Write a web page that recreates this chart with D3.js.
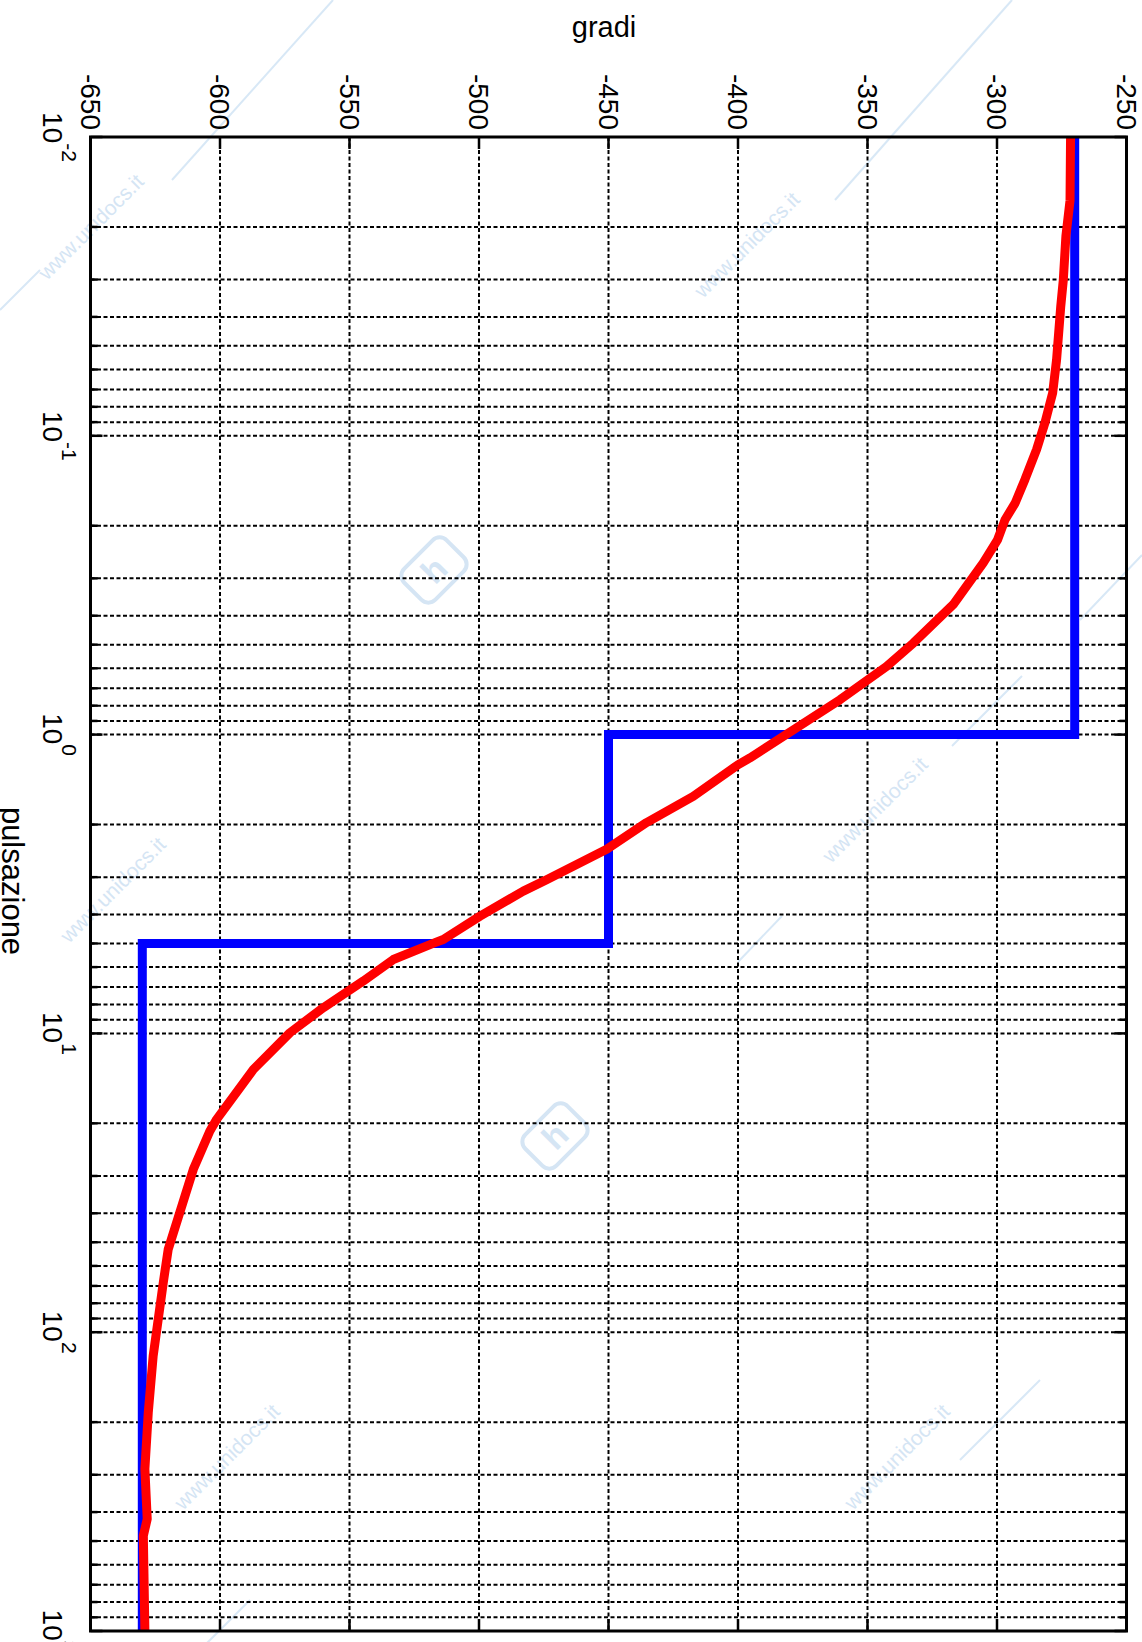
<!DOCTYPE html>
<html>
<head>
<meta charset="utf-8">
<script src="https://cdn.jsdelivr.net/npm/d3@7"></script>
<style>
  body { margin: 0; background: #fff; }
  svg { display: block; }
  text { font-family: "Liberation Sans", Arial, Helvetica, sans-serif; }
</style>
</head>
<body>
<svg id="chart" width="1142" height="1642"></svg>
<script>
// Phase axis (degrees) and frequency decades
const degreeTicks = [-650, -600, -550, -500, -450, -400, -350, -300, -250];
const decadeExponents = [-2, -1, 0, 1, 2, 3];

// Asymptotic (straight-line) phase
const asymptoteFreq = [0.01, 1, 1, 5, 5, 1000];
const asymptotePhase = [-270, -270, -450, -450, -630, -630];

// Actual phase curve
const phaseFreq = [0.01, 0.0163, 0.0215, 0.0301, 0.037, 0.0557, 0.0718, 0.0905, 0.111, 0.140,
  0.168, 0.191, 0.223, 0.266, 0.367, 0.494, 0.591, 0.764, 0.950, 1.197,
  1.26, 1.61, 1.97, 2.42, 3.06, 3.34, 4.05, 4.85, 4.97, 5.66,
  6.68, 8.2, 9.95, 13.2, 19.4, 21.2, 28.5, 52.8, 68.2, 120,
  186, 287, 422, 480, 1000];
const phaseDeg = [-271.6, -271.8, -273.4, -274.4, -275.4, -277.0, -278.5, -281.5, -284.7, -289.2,
  -293.0, -296.9, -299.8, -305.3, -316.9, -332.3, -342.6, -360.6, -377.5, -395.4,
  -399.9, -417.3, -435.3, -450.7, -473.9, -482.9, -499.6, -513.8, -517.0, -533.1,
  -544.7, -560.1, -573.0, -587.1, -601.3, -603.9, -610.3, -620.0, -621.9, -625.8,
  -627.7, -629.0, -628.1, -629.6, -629.0];

const xLabel = "pulsazione";
const yLabel = "gradi";
const watermark = "www.unidocs.it";

const svg = d3.select("#chart");
const W = 1142, H = 1642;
const box = { left: 90.5, right: 1126.5, top: 137, bottom: 1631 };

// Frequency runs downwards, phase runs left to right
const yF = d3.scaleLog().domain([0.01, 1000]).range([box.top, box.bottom]);
const xD = d3.scaleLinear().domain([-650, -250]).range([box.left, box.right]);

svg.append("rect").attr("width", W).attr("height", H).attr("fill", "#fff");

// Faint site watermark
const wm = svg.append("g").attr("fill", "#d5e5f4").attr("stroke", "none");
const wmSpots = [[96, 232], [752, 250], [118, 895], [880, 815], [232, 1462], [902, 1462]];
wmSpots.forEach(([x, y]) => {
  wm.append("text").attr("transform", `translate(${x},${y}) rotate(-45)`)
    .attr("text-anchor", "middle").attr("font-size", 21).text(watermark);
});
const wmLines = [[[333, 0], [172, 180]], [[1012, 0], [835, 200]], [[1022, 676], [952, 746]],
  [[782, 916], [738, 962]], [[1142, 555], [1080, 620]], [[0, 310], [40, 270]],
  [[250, 1600], [130, 1720]], [[1040, 1380], [960, 1460]]];
wmLines.forEach(([a, b]) => {
  svg.append("line").attr("x1", a[0]).attr("y1", a[1]).attr("x2", b[0]).attr("y2", b[1])
    .attr("stroke", "#d8e8f6").attr("stroke-width", 2);
});
[[434, 570], [555, 1136]].forEach(([x, y]) => {
  const lg = svg.append("g").attr("transform", `translate(${x},${y}) rotate(-45)`);
  lg.append("rect").attr("x", -30).attr("y", -22).attr("width", 60).attr("height", 44).attr("rx", 10)
    .attr("fill", "none").attr("stroke", "#d5e5f4").attr("stroke-width", 4);
  lg.append("text").attr("text-anchor", "middle").attr("dy", "0.35em").attr("font-size", 34)
    .attr("font-weight", "bold").attr("fill", "#d5e5f4").text("h");
});

// Grid
const grid = svg.append("g").attr("stroke", "#000").attr("stroke-width", 2)
  .attr("stroke-dasharray", "4,2.5").attr("fill", "none");
const minorFreqs = [];
decadeExponents.slice(0, -1).forEach(e => {
  for (let k = 2; k <= 9; k++) minorFreqs.push(k * Math.pow(10, e));
});
const majorFreqs = decadeExponents.map(e => Math.pow(10, e));
grid.selectAll(".hf").data(minorFreqs.concat(majorFreqs.slice(1, -1))).join("line")
  .attr("x1", box.left).attr("x2", box.right)
  .attr("y1", d => yF(d)).attr("y2", d => yF(d));
grid.selectAll(".vd").data(degreeTicks.slice(1, -1)).join("line")
  .attr("y1", box.top).attr("y2", box.bottom)
  .attr("x1", d => xD(d)).attr("x2", d => xD(d));

// Tick marks on the inside of all four sides
const ticks = svg.append("g").attr("stroke", "#000").attr("stroke-width", 2.5);
degreeTicks.forEach(d => {
  ticks.append("line").attr("x1", xD(d)).attr("x2", xD(d)).attr("y1", box.top).attr("y2", box.top + 12);
  ticks.append("line").attr("x1", xD(d)).attr("x2", xD(d)).attr("y1", box.bottom).attr("y2", box.bottom - 12);
});
majorFreqs.forEach(f => {
  ticks.append("line").attr("x1", box.left).attr("x2", box.left + 12).attr("y1", yF(f)).attr("y2", yF(f));
  ticks.append("line").attr("x1", box.right).attr("x2", box.right - 12).attr("y1", yF(f)).attr("y2", yF(f));
});
minorFreqs.forEach(f => {
  ticks.append("line").attr("x1", box.left).attr("x2", box.left + 7).attr("y1", yF(f)).attr("y2", yF(f));
  ticks.append("line").attr("x1", box.right).attr("x2", box.right - 7).attr("y1", yF(f)).attr("y2", yF(f));
});

// Degree labels along the top (d3 axis, text turned a quarter clockwise)
const degAxis = svg.append("g").attr("transform", `translate(0,${box.top})`)
  .call(d3.axisTop(xD).tickValues(degreeTicks).tickSize(0).tickFormat(d => String(d)));
degAxis.select(".domain").remove();
degAxis.selectAll("text")
  .attr("x", 0).attr("y", 0).attr("dy", "0.36em")
  .attr("text-anchor", "end")
  .attr("transform", "translate(0,-7) rotate(90)")
  .attr("font-size", 28).attr("fill", "#000")
  .attr("font-family", "'Liberation Sans', Arial, sans-serif");

// Decade labels down the left side
const fLabels = svg.append("g");
decadeExponents.forEach(e => {
  const t = fLabels.append("text")
    .attr("transform", `translate(43,${yF(Math.pow(10, e))}) rotate(90)`)
    .attr("text-anchor", "middle").attr("fill", "#000");
  t.append("tspan").attr("font-size", 28).text("10");
  t.append("tspan").attr("font-size", 21).attr("dy", -19).text(String(e));
});

// Axis titles
svg.append("text").attr("x", 604).attr("y", 37).attr("text-anchor", "middle")
  .attr("font-size", 29).attr("fill", "#000").text(yLabel);
svg.append("text").attr("transform", `translate(2,${(box.top + box.bottom) / 2 - 3}) rotate(90)`)
  .attr("text-anchor", "middle").attr("font-size", 31).attr("fill", "#000").text(xLabel);

// Curves
const asymData = asymptoteFreq.map((f, i) => ({ f, p: asymptotePhase[i] }));
const phaseData = phaseFreq.map((f, i) => ({ f, p: phaseDeg[i] }));
const line = d3.line().x(d => xD(d.p)).y(d => yF(d.f));
svg.append("path").datum(asymData).attr("d", line)
  .attr("fill", "none").attr("stroke", "#0000ff").attr("stroke-width", 9);
svg.append("path").datum(phaseData).attr("d", line)
  .attr("fill", "none").attr("stroke", "#ff0000").attr("stroke-width", 9).attr("stroke-linejoin", "round");

// Frame
svg.append("rect").attr("x", box.left).attr("y", box.top)
  .attr("width", box.right - box.left).attr("height", box.bottom - box.top)
  .attr("fill", "none").attr("stroke", "#000").attr("stroke-width", 3);
</script>
</body>
</html>
